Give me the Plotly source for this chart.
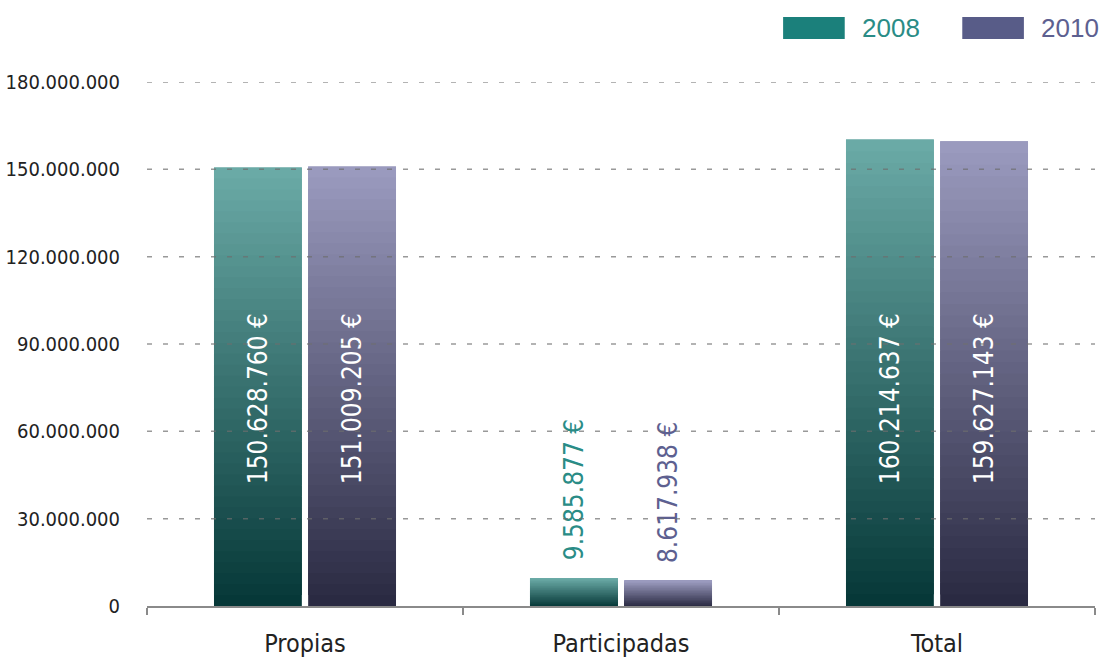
import plotly.graph_objects as go

categories = ["Propias", "Participadas", "Total"]
series_names = ["2008", "2010"]
values_2008 = [150628760, 9585877, 160214637]
values_2010 = [151009205, 8617938, 159627143]
y_ticks = [0, 30000000, 60000000, 90000000, 120000000, 150000000, 180000000]

FONT = "DejaVu Sans Condensed, Liberation Sans Narrow, Roboto, sans-serif"
legend_colors = ["#1b807b", "#585c88"]
label_colors = ["#2a8c86", "#5d6090"]
top_colors = [(106, 170, 166), (154, 154, 190)]
bottom_colors = [(6, 56, 56), (42, 42, 66)]
offsets = [-0.288, 0.01]
bar_w = 0.278
N = 40
PAD_OUT = "\u00a0\u00a0"
PAD_IN = "\u00a0" * 16

def lerp(c1, c2, t):
    return "rgb(%d,%d,%d)" % tuple(round(a + (b - a) * t) for a, b in zip(c1, c2))

fig = go.Figure()
for s, vals in enumerate([values_2008, values_2010]):
    for k in range(N):
        t = k / (N - 1)
        h = min(2.0, N - k) / N
        fig.add_trace(go.Bar(
            x=categories, y=[v * h for v in vals], base=[v * k / N for v in vals],
            offset=offsets[s], width=bar_w,
            marker=dict(color=lerp(bottom_colors[s], top_colors[s], t), line=dict(width=0)),
            showlegend=False, hoverinfo="skip"))
    is_out = [v < 0.2 * max(vals) for v in vals]
    positions = ["outside" if o else "inside" for o in is_out]
    templates = [(PAD_OUT if o else PAD_IN) + "%{y:,d} €" for o in is_out]
    fig.add_trace(go.Bar(
        x=categories, y=vals, name=series_names[s], offset=offsets[s], width=bar_w,
        marker=dict(color="rgba(0,0,0,0)", line=dict(width=0)),
        texttemplate=templates, textposition=positions, textangle=-90,
        insidetextanchor="start", constraintext="none",
        insidetextfont=dict(color="white", size=26, family=FONT),
        outsidetextfont=dict(color=label_colors[s], size=26, family=FONT),
        showlegend=False))

# dashed gridlines above bars
for yv in y_ticks[1:]:
    fig.add_shape(type="line", xref="paper", yref="y", x0=0, x1=1, y0=yv, y1=yv,
                  line=dict(color="rgba(110,110,110,0.7)", width=1.5, dash="5px,11px"),
                  layer="above")

# custom legend
leg_box = [(0.671, 0.736), (0.860, 0.925)]
leg_txt = [0.752, 0.941]
for s in range(2):
    fig.add_shape(type="rect", xref="paper", yref="paper", x0=leg_box[s][0], x1=leg_box[s][1],
                  y0=1.082, y1=1.124, fillcolor=legend_colors[s], line=dict(width=0))
    fig.add_annotation(xref="paper", yref="paper", x=leg_txt[s], y=1.103, text=series_names[s],
                       showarrow=False, xanchor="left", yanchor="middle",
                       font=dict(family="Liberation Sans, Arial, sans-serif", size=26,
                                 color=label_colors[s]))

fig.update_layout(
    width=1101, height=659, barmode="overlay", separators=",.",
    paper_bgcolor="white", plot_bgcolor="white",
    margin=dict(l=147, r=6, t=82, b=53, autoexpand=False),
    font=dict(family=FONT, color="#222222"),
    xaxis=dict(range=[-0.5, 2.5], showline=True, linecolor="#8a8a8a", linewidth=2,
               ticks="outside", tickson="boundaries", ticklen=7, tickcolor="#8a8a8a",
               tickwidth=2, tickfont=dict(size=25, color="#222222", family=FONT),
               ticklabelstandoff=14,
               showgrid=False, automargin=False),
    yaxis=dict(range=[0, 180000000], tickvals=y_ticks, tickformat=",d", showgrid=False,
               zeroline=False, showline=False, ticks="outside", ticklen=22,
               tickcolor="rgba(0,0,0,0)", automargin=False,
               tickfont=dict(size=20, color="#222222", family=FONT)),
)

fig.write_html("out.html", config={"displayModeBar": False},
               post_script="document.body.style.margin='0px';document.body.style.overflow='hidden';")
